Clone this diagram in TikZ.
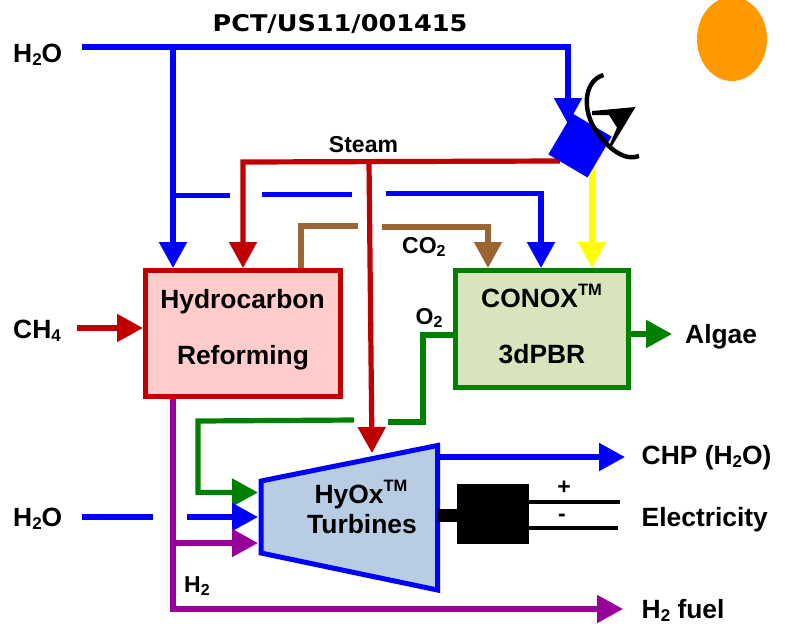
\documentclass[tikz,border=0pt]{standalone}
\usepackage{fontspec}
\usepackage{graphicx}
\setmainfont{Liberation Sans}
\newfontfamily\tahomalike{DejaVu Sans}
\usetikzlibrary{arrows.meta,shapes.geometric}
\definecolor{cblue}{HTML}{0000FF}
\definecolor{cred}{HTML}{C00000}
\definecolor{cgreen}{HTML}{008000}
\definecolor{cbrown}{HTML}{996633}
\definecolor{cpurple}{HTML}{990099}
\definecolor{cyel}{HTML}{FFFF00}
\definecolor{csun}{HTML}{FF9900}
\newcommand{\subnum}[2]{\raisebox{-0.14em}{\fontsize{#1}{#1}\selectfont #2}}
\newcommand{\tmark}{\raisebox{0.45em}{\fontsize{16.5}{16.5}\selectfont TM}}
\tikzset{
  x=1pt,y=-1pt,
  flow/.style={line width=5.2pt,miter limit=10},
  arr/.style={flow,-{Triangle[length=26pt,width=27pt]}},
  lab/.style={font=\fontsize{26.4}{30}\selectfont\bfseries,inner sep=0pt,text=black,anchor=base west},
  labc/.style={lab,anchor=base},
  labs/.style={font=\fontsize{23}{26}\selectfont\bfseries,inner sep=0pt,text=black,anchor=base west},
  box/.style={line width=5pt,inner sep=0pt},
}
\begin{document}
\begin{tikzpicture}
\useasboundingbox (0,0) rectangle (786,625);
% sun
\node[ellipse,fill=csun,minimum width=70pt,minimum height=84pt,inner sep=0pt] (sun) at (732,39) {};
% end points
\coordinate (w1) at (82,47);
\coordinate (w1r) at (568,47);
\coordinate (w1t) at (568,124);
\coordinate (w1b) at (173,47);
\coordinate (w1h) at (173,268);
\coordinate (d1a) at (173,195.5);
\coordinate (d1b) at (230,195.5);
\coordinate (d2a) at (262,194.5);
\coordinate (d2b) at (352,194.5);
\coordinate (d3a) at (386,193.5);
\coordinate (d3b) at (541,193.5);
\coordinate (d3t) at (541,268);
\coordinate (stR) at (560,161);
\coordinate (stL) at (243,162);
\coordinate (stH) at (243,268);
\coordinate (stD) at (369,161.5);
\coordinate (stT) at (372,453);
\coordinate (bA) at (301,268);
\coordinate (bB) at (301,226);
\coordinate (bC) at (358,226);
\coordinate (bD) at (382,227);
\coordinate (bE) at (488,227);
\coordinate (bF) at (488,268);
\coordinate (yA) at (592,165);
\coordinate (yB) at (592,268);
\coordinate (gA) at (455,335);
\coordinate (gB) at (423,335);
\coordinate (gC) at (423,422);
\coordinate (gD) at (388,422);
\coordinate (gE) at (354,420);
\coordinate (gF) at (198,421);
\coordinate (gG) at (198,492.5);
\coordinate (gH) at (258,492.5);
\coordinate (chA) at (77,328);
\coordinate (chB) at (143,328);
\coordinate (alA) at (629,334);
\coordinate (alB) at (672,334);
\coordinate (w2a) at (82,517);
\coordinate (w2b) at (153,517);
\coordinate (w2c) at (187,517);
\coordinate (w2d) at (258,517);
\coordinate (pA) at (173,397);
\coordinate (pB) at (173,609);
\coordinate (pC) at (623,609);
\coordinate (pD) at (173,543);
\coordinate (pE) at (258,543);
\coordinate (cA) at (440,457);
\coordinate (cB) at (625,457);
% connectors
\draw[arr,cblue] (w1) -- (w1r) -- (w1t);
\draw[arr,cblue] (w1b) -- (w1h);
\draw[flow,cblue] (d1a) -- (d1b);
\draw[flow,cblue] (d2a) -- (d2b);
\draw[arr,cblue] (d3a) -- (d3b) -- (d3t);
\draw[flow,cbrown] (bA) -- (bB) -- (bC);
\draw[arr,cbrown] (bD) -- (bE) -- (bF);
\draw[arr,cyel] (yA) -- (yB);
\draw[arr,cred] (stR) -- (stL) -- (stH);
\draw[arr,cred] (stD) -- (stT);
\draw[flow,cgreen] (gA) -- (gB) -- (gC) -- (gD);
\draw[arr,cgreen] (gE) -- (gF) -- (gG) -- (gH);
\draw[arr,cred] (chA) -- (chB);
\draw[arr,cgreen] (alA) -- (alB);
\draw[flow,cblue] (w2a) -- (w2b);
\draw[arr,cblue] (w2c) -- (w2d);
\draw[arr,cpurple] (pA) -- (pB) -- (pC);
\draw[arr,cpurple] (pD) -- (pE);
\draw[arr,cblue] (cA) -- (cB);
% boxes
\node[box,draw=cred,fill=red!20,minimum width=194.5pt,minimum height=125.5pt] (hydro) at (242.75,333.25) {};
\node[box,draw=cgreen,fill={rgb,255:red,216;green,228;blue,188},minimum width=172.5pt,minimum height=117pt] (conox) at (541.75,329) {};
\node[labc] (hydroA) at (242.5,308) {Hydrocarbon};
\node[labc] (hydroB) at (243,364) {Reforming};
\node[labc] (conoxA) at (541.5,307) {CONOX\tmark};
\node[labc] (conoxB) at (542,363) {3dPBR};
% turbine
\draw[line width=5pt,cblue,fill={rgb,255:red,184;green,204;blue,228},miter limit=10]
  (261,481) -- (437.5,445.5) -- (437.5,590) -- (261,553) -- cycle;
\node[labc] (turbA) at (361,503) {HyOx\tmark};
\node[labc] (turbB) at (362,533) {Turbines};
% generator
\node[fill=black,minimum width=72pt,minimum height=60pt,inner sep=0pt] (gen) at (493,514) {};
\coordinate (shA) at (438,515.5);
\draw[line width=13pt,black] (shA) -- (gen.west |- shA);
\coordinate (epl) at (620,502);
\coordinate (eml) at (618,528);
\draw[line width=4pt] (gen.east |- epl) -- (epl);
\draw[line width=4pt] (gen.east |- eml) -- (eml);
% dish
\node[fill=cblue,minimum width=45.5pt,minimum height=47.5pt,inner sep=0pt,rotate=-30.5] (sq) at (580,145.5) {};
\fill[black] (592,111) -- (635.5,107) -- (612,146) -- (609.5,145) -- (617,127.5) -- (609,115) -- (592,115) -- cycle;
\draw[line width=4.4pt,black] (603.5,75) .. controls (583,81) and (582,112) .. (597,132) .. controls (610,151) and (626,161) .. (639,156);
% labels
\node[font=\tahomalike\fontsize{23}{30}\selectfont\bfseries,inner sep=0pt,anchor=base] (pct) at (340,31) {\scalebox{1.11}[1]{PCT/US11/001415}};
\node[lab] (h1) at (13,62) {H\subnum{17}{2}O};
\node[lab] (ch) at (13,338) {CH\subnum{17}{4}};
\node[lab] (h2) at (13,526) {H\subnum{17}{2}O};
\node[labs,anchor=base] (steam) at (363.5,152) {Steam};
\node[labs] (co) at (402,253) {CO\subnum{16}{2}};
\node[labs] (ot) at (415.5,324) {O\subnum{16}{2}};
\node[lab] (alg) at (685,343) {Algae};
\node[lab] (chp) at (641.5,464) {CHP (H\subnum{17}{2}O)};
\node[lab] (el) at (641.5,526) {Electricity};
\node[lab] (fu) at (641.5,618) {H\subnum{17}{2} fuel};
\node[labs] (h2l) at (184,592) {H\subnum{16}{2}};
\node[labs,anchor=center] (pl) at (564,488) {+};
\node[labs,anchor=center] (mi) at (562,518) {-};
\end{tikzpicture}
\end{document}
